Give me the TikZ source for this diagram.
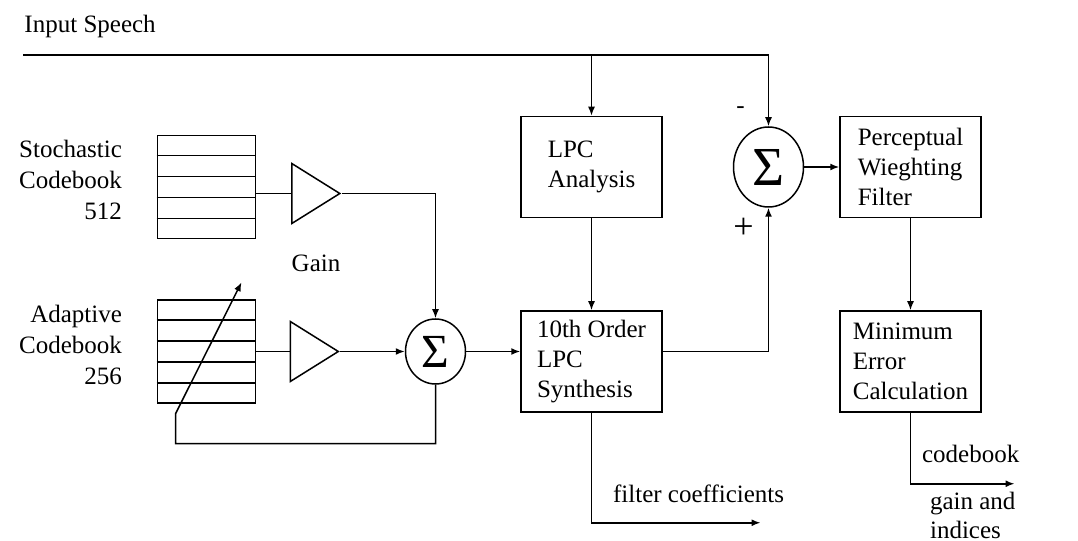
\documentclass[tikz,border=0pt]{standalone}
\usepackage{fontspec}
\setmainfont{Liberation Serif}
\usetikzlibrary{arrows.meta,positioning,shapes.geometric,calc}

\begin{document}
\begin{tikzpicture}[
  block/.style={draw, line width=0.6pt, align=left, minimum width=56.4pt, minimum height=40.4pt, font=\fontsize{10}{12}\selectfont},
  book/.style={draw, line width=0.6pt, minimum width=39.2pt, minimum height=41.2pt, inner sep=0pt},
  amp/.style={draw, line width=0.6pt, isosceles triangle, isosceles triangle stretches, minimum width=24pt, minimum height=19.2pt, inner sep=0pt},
  sumnode/.style={draw, line width=0.6pt, ellipse, inner sep=0pt},
  lbl/.style={align=right, font=\fontsize{10}{12.4}\selectfont},
  wire/.style={line width=0.6pt},
  arrow/.style={-{Latex[length=3.6pt,width=2.8pt]}, line width=0.6pt}
]
\useasboundingbox (0,0) rectangle (431.2pt,-216.4pt);
\node[block] (ana) at (236.6pt,-66.8pt) {LPC\\Analysis};
\node[block, below=36.8pt of ana] (syn) {10th Order\\LPC\\Synthesis};
\node[sumnode, minimum width=28pt, minimum height=32pt, right=28pt of ana] (sum2) {\fontsize{22}{22}\selectfont Σ};
\node[block, right=14pt of sum2] (pwf) {Perceptual\\Wieghting\\Filter};
\node[block, below=36.8pt of pwf] (mec) {Minimum\\Error\\Calculation};
\node[sumnode, minimum width=24pt, minimum height=26pt, anchor=east] (sum1) at ([xshift=-21.6pt,yshift=4pt]syn.west) {\fontsize{19}{19}\selectfont Σ};
\node[amp, left=25.8pt of sum1] (amp2) {};
\node[book, left=13.4pt of amp2] (adapt) {};
\node[book, above=24pt of adapt] (stoch) {};
\node[amp] (amp1) at ([xshift=0.6pt,yshift=63.2pt]amp2) {};
\node (gain) at ([xshift=10pt,yshift=-28pt]amp1.west) {Gain};
\node[lbl, left=10.3pt of stoch, yshift=2.8pt] (stochlbl) {Stochastic\\Codebook\\512};
\node[lbl, left=10.3pt of adapt, yshift=2.6pt] (adaptlbl) {Adaptive\\Codebook\\256};
\foreach \cb in {stoch,adapt}
  \foreach \i in {1,...,4}
    \draw[wire] ($(\cb.north west)!\i/5!(\cb.south west)$) -- ($(\cb.north east)!\i/5!(\cb.south east)$);

\coordinate (in) at (9.2pt,-22pt);
\node[anchor=base west, inner sep=0pt] (speech) at ([xshift=0.4pt,yshift=8.8pt]in) {Input Speech};
\draw[arrow] (in) -| (sum2.north);
\draw[arrow] (in -| ana.north) -- (ana.north);
\node (minus) at ([xshift=-11.2pt,yshift=6.6pt]sum2.north) {-};
\node[font=\Large] (plus) at ([xshift=-10pt,yshift=-8.4pt]sum2.south) {+};

\draw[wire] (amp1.west -| stoch.east) -- (amp1.west);
\draw[arrow] (amp1.east) -| (sum1.north);
\draw[wire] (amp2.west -| adapt.east) -- (amp2.west);
\draw[arrow] (amp2.east) -- (sum1.west);
\draw[arrow] (sum1.east) -- (sum1.east -| syn.west);
\draw[arrow] (ana) -- (syn);
\draw[arrow] (sum1.east -| syn.east) -| (sum2.south);
\draw[arrow] (sum2) -- (pwf);
\draw[arrow] (pwf) -- (mec);

\coordinate (fbl) at ([xshift=7.6pt,yshift=-16pt]adapt.south west);
\coordinate (fbt) at ([xshift=7.6pt,yshift=-4pt]adapt.south west);
\coordinate (gaintip) at ([xshift=34pt,yshift=6.8pt]adapt.north west);
\draw[arrow] (sum1.south) |- (fbl) -- (fbt) -- (gaintip);

\coordinate[below=44pt of syn.south] (fcbend);
\coordinate[right=67.6pt of fcbend] (fcend);
\draw[arrow] (syn.south) -- (fcbend) -- (fcend);
\node[above right=4.3pt and 5.1pt of fcbend] (fclbl) {filter coefficients};

\coordinate[below=28.4pt of mec.south] (mcbend);
\coordinate[right=41.6pt of mcbend] (mcend);
\draw[arrow] (mec.south) -- (mcbend) -- (mcend);
\node[above right=4.7pt and 1.1pt of mcbend] (cblbl) {codebook};
\node[align=left, font=\fontsize{10}{11.4}\selectfont, below right=0pt and 4.3pt of mcbend] (gilbl) {gain and\\indices};
\end{tikzpicture}
\end{document}
